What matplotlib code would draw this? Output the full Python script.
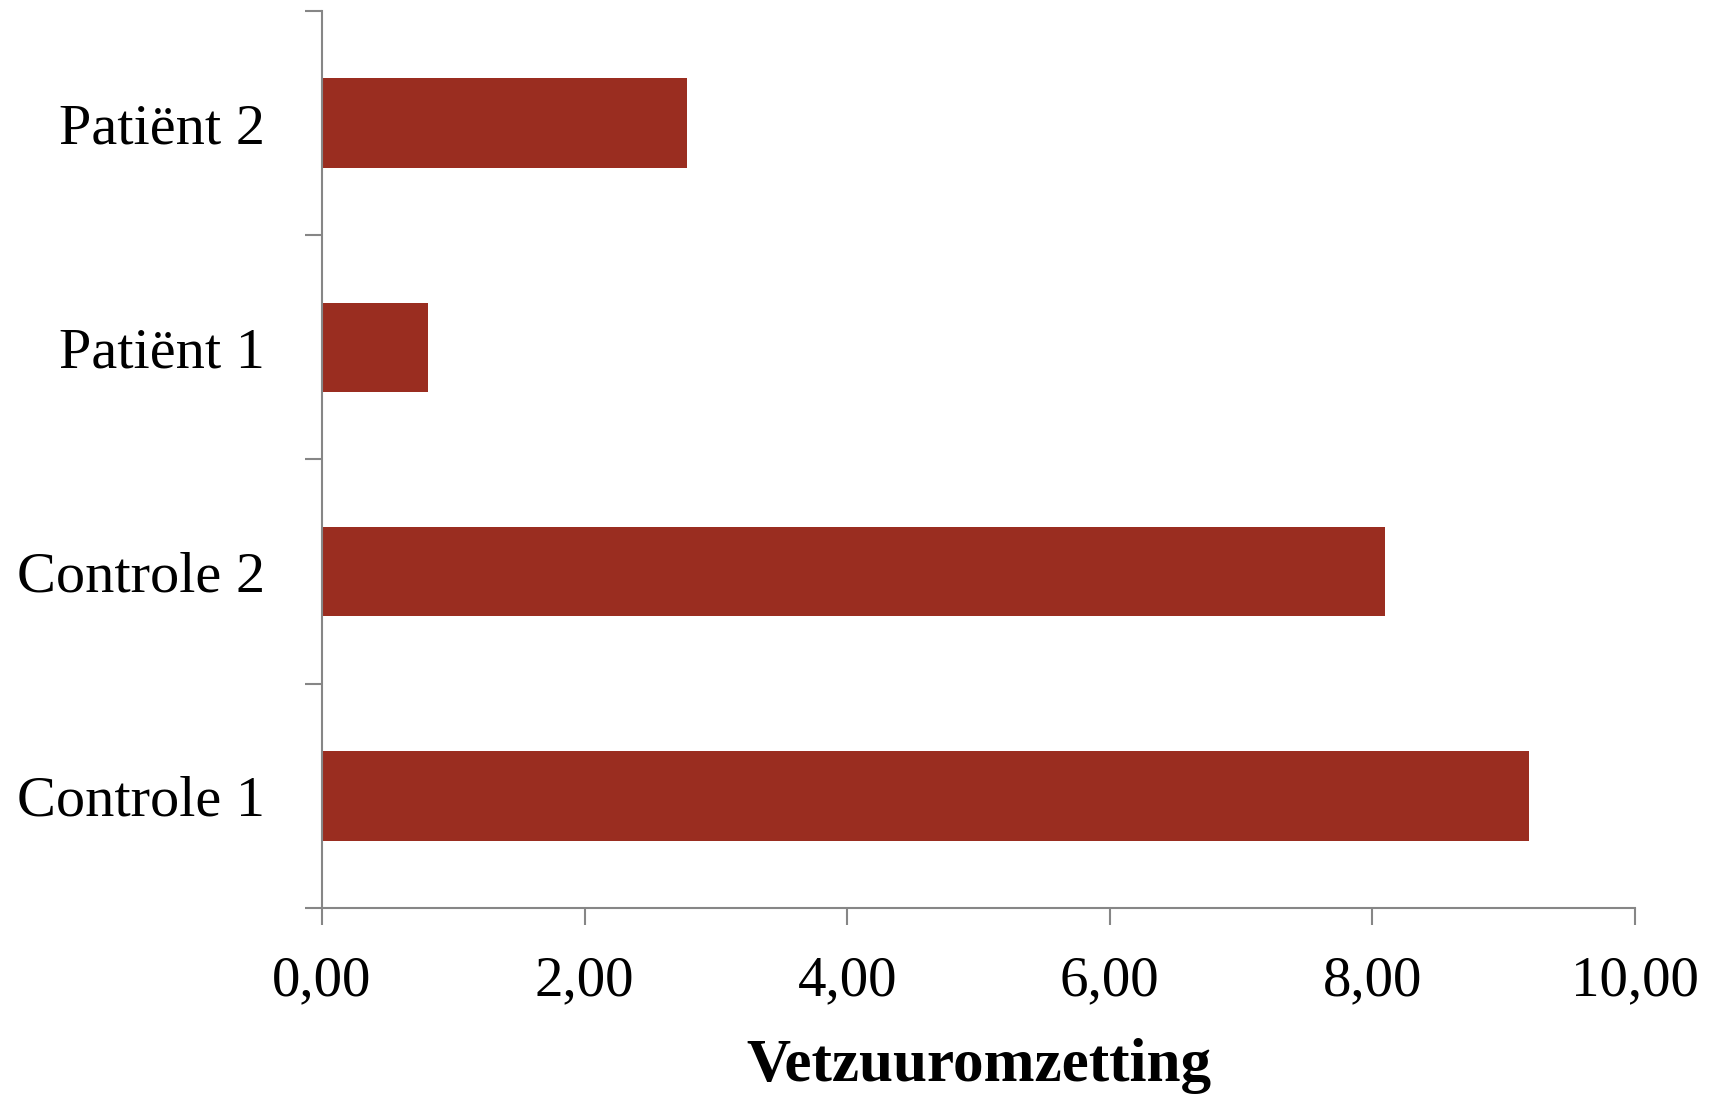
import numpy as np
import matplotlib.pyplot as plt

#===================================================================================================

categories = ['Controle 1', 'Controle 2', 'Patiënt 1', 'Patiënt 2']   #bottom to top
values = [9.19, 8.10, 0.81, 2.78]                                      #fatty acid conversion
xticks = [0, 2, 4, 6, 8, 10]
xtick_labels = ['0,00', '2,00', '4,00', '6,00', '8,00', '10,00']

#===================================================================================================

plt.rcParams['font.family'] = ['Liberation Serif', 'DejaVu Serif']

bar_color = '#9a2d20'
axis_color = '#868686'

fig = plt.figure(figsize=(17.10, 10.97), dpi=100)
ax = fig.add_axes([0.1883, 0.1723, 0.9561 - 0.1883, 0.990 - 0.1723])

y = np.arange(len(categories))
ax.barh(y, values, height=0.4, color=bar_color, zorder=2)

ax.set_xlim(0, 10)
ax.set_ylim(-0.5, len(categories) - 0.5)

#x axis
ax.set_xticks(xticks)
ax.set_xticklabels(xtick_labels, fontsize=41)
ax.tick_params(axis='x', direction='out', length=12, width=1.5, color=axis_color, pad=22)

#y axis: labels at centres, ticks at the category boundaries
ax.set_yticks(y)
ax.set_yticklabels(categories, fontsize=42)
ax.tick_params(axis='y', which='major', length=0, pad=41)
for lab in ax.get_yticklabels():
    lab.set_y(0)
ax.set_yticks(np.arange(-0.5, len(categories), 1.0), minor=True)
ax.tick_params(axis='y', which='minor', direction='out', length=12, width=1.5, color=axis_color)

for side in ['top', 'right']:
    ax.spines[side].set_visible(False)
for side in ['left', 'bottom']:
    ax.spines[side].set_color(axis_color)
    ax.spines[side].set_linewidth(1.5)

ax.set_xlabel('Vetzuuromzetting', fontsize=44, fontweight='bold', labelpad=22)

fig.savefig('out.png', dpi=100)
plt.close()
